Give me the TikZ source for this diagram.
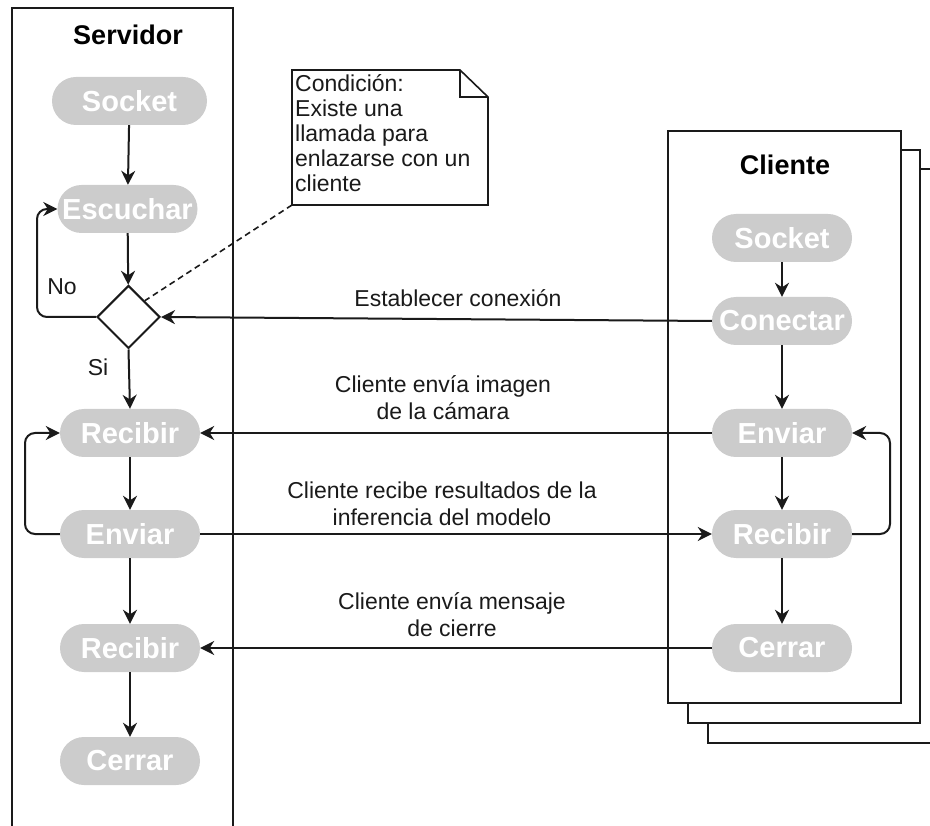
\documentclass[tikz,border=0pt]{standalone}
\usepackage{fontspec}
\setmainfont{Liberation Sans}
\usetikzlibrary{arrows.meta,shapes.geometric}
\definecolor{pillgray}{HTML}{CCCCCC}
\definecolor{ink}{HTML}{1A1A1A}
\begin{document}
\begin{tikzpicture}[x=1pt,y=-1pt,
  pill/.style={fill=pillgray, rounded corners=24pt, minimum width=140pt,
    minimum height=48pt, inner sep=0pt, text=white,
    font=\fontsize{29}{29}\selectfont\bfseries},
  lane/.style={draw=ink, line width=2pt},
  title/.style={font=\fontsize{27}{27}\selectfont\bfseries, text=black},
  msg/.style={font=\fontsize{23}{27}\selectfont, align=center, text=ink},
  conn/.style={draw=ink, line width=2pt,
    -{Stealth[length=14pt,width=14pt,inset=4.5pt]}},
  loopconn/.style={conn, rounded corners=10pt}]
\useasboundingbox (0,0) rectangle (930,826);
\clip (0,0) rectangle (930,826);

% swimlanes
\draw[lane] (12,840) -- (12,8) -- (233,8) -- (233,840);
\draw[lane, fill=white] (708,169) rectangle (945,743);
\draw[lane, fill=white] (688,150) rectangle (920,723);
\draw[lane, fill=white] (668,131) rectangle (901,703);

\node[title] (tServ) at (128,35) {Servidor};
\node[title] (tCli) at (785,165) {Cliente};

% server flow
\node[pill, minimum width=155pt] (sSocket) at (129.5,101) {Socket};
\node[pill] (sEsc) at (127.5,209) {Escuchar};
\node[diamond, draw=ink, line width=2pt, fill=white, minimum width=63pt,
  minimum height=63pt, inner sep=0pt] (dec) at (128.5,317) {};
\node[pill] (sRec1) at (130,433) {Recibir};
\node[pill] (sEnv) at (130,534) {Enviar};
\node[pill] (sRec2) at (130,648) {Recibir};
\node[pill] (sCer) at (130,761) {Cerrar};

% client flow
\node[pill] (cSocket) at (782,238) {Socket};
\node[pill] (cCon) at (782,321) {Conectar};
\node[pill] (cEnv) at (782,433) {Enviar};
\node[pill] (cRec) at (782,534) {Recibir};
\node[pill] (cCer) at (782,648) {Cerrar};

% note with folded corner
\draw[lane, line width=1.6pt, fill=white] (292,70) -- (460,70) -- (488,97)
  -- (488,205) -- (292,205) -- cycle;
\draw[lane, line width=1.6pt] (460,70) -- (460,97) -- (488,97);
\node[anchor=north west, inner sep=0pt, align=left, text=ink,
  font=\fontsize{23}{25}\selectfont] (note) at (295,74)
  {Condición:\\Existe una\\llamada para\\enlazarse con un\\cliente};
\coordinate (noteBL) at (292,205);
\draw[draw=ink, line width=1.6pt, dash pattern=on 6pt off 4pt]
  (noteBL) -- (dec.north east);

% server arrows
\draw[conn] (sSocket) -- (sEsc);
\draw[conn] (sEsc) -- (dec);
\coordinate (noTurn) at (37,209);
\draw[loopconn] (dec.west) -| (noTurn) -- (sEsc.west);
\draw[conn] (dec.south) -- (sRec1.north);
\draw[conn] (sRec1) -- (sEnv);
\draw[conn] (sEnv) -- (sRec2);
\draw[conn] (sRec2) -- (sCer);
\coordinate (loopS) at (25,433);
\draw[loopconn] (sEnv.west) -| (loopS) -- (sRec1.west);
\node[msg, anchor=base] (lblNo) at (62,295) {No};
\node[msg, anchor=base] (lblSi) at (98,376) {Si};

% client arrows
\draw[conn] (cSocket) -- (cCon);
\draw[conn] (cCon) -- (cEnv);
\draw[conn] (cEnv) -- (cRec);
\draw[conn] (cRec) -- (cCer);
\coordinate (loopC) at (890,433);
\draw[loopconn] (cRec.east) -| (loopC) -- (cEnv.east);

% messages between server and client
\draw[conn] (cCon.west) -- (dec.east);
\draw[conn] (cEnv.west) -- (sRec1.east);
\draw[conn] (sEnv.east) -- (cRec.west);
\draw[conn] (cCer.west) -- (sRec2.east);
\node[msg] (m1) at (458,298) {Establecer conexión};
\node[msg] (m2) at (443,398) {Cliente envía imagen\\de la cámara};
\node[msg] (m3) at (442,504) {Cliente recibe resultados de la\\inferencia del modelo};
\node[msg] (m4) at (452,615) {Cliente envía mensaje\\de cierre};
\end{tikzpicture}
\end{document}
